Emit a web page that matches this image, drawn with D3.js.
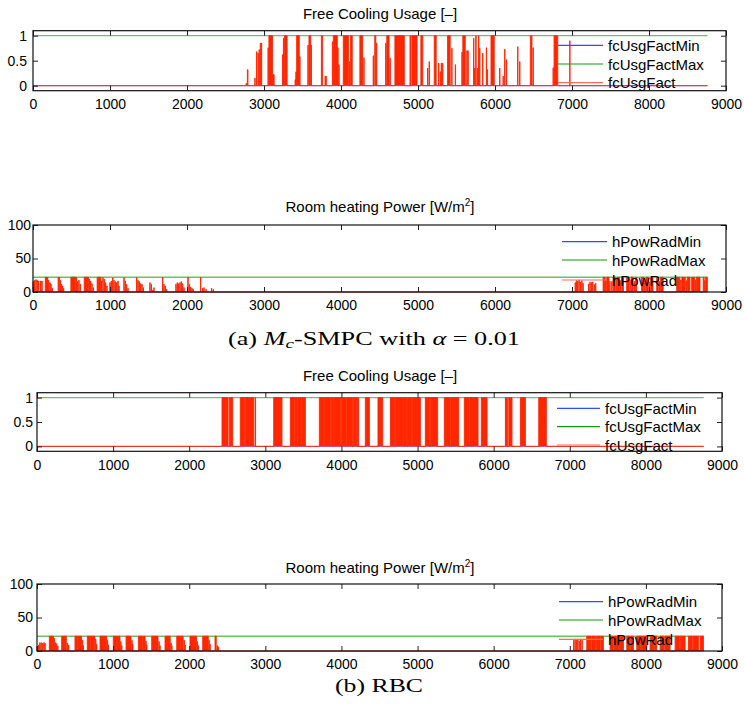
<!DOCTYPE html>
<html>
<head>
<meta charset="utf-8">
<script src="https://cdn.jsdelivr.net/npm/d3@7"></script>
<style>
  body { margin: 0; background: #fff; }
  svg text { font-family: "Liberation Sans", Arial, Helvetica, sans-serif; fill: #000; }
  svg text.cap { font-family: "Liberation Serif", "Times New Roman", serif; }
</style>
</head>
<body>
<svg id="fig" width="744" height="709"></svg>
<script>
// ---- data -------------------------------------------------------------
// hour of year on the x axis
const yearSpan = [0, 8760];
const xTicks = [0, 1000, 2000, 3000, 4000, 5000, 6000, 7000, 8000, 9000];
const fcTicks = [0, 0.5, 1];
const powTicks = [0, 50, 100];

// bounds (value at the start and at the end of the year)
const fcUsgFactMin = [0, 0];
const fcUsgFactMax = [1, 1];
const hPowRadMin = [0, 0];
const hPowRadMax = [22, 22];

// actual trajectories, as pulses [startHour, endHour, value]; zero elsewhere
const smpcFcUsgFact = [
  [2768,2772,0.05],[2784,2792,0.32],
  [2880,2884,0.15],[2902,2906,0.68],[2922,2926,0.65],[2936,2940,0.72],[2952,2958,0.85],[2966,2970,0.85],
  [3052,3056,0.76],[3064,3110,1],[3116,3132,0.22],
  [3240,3244,0.62],[3252,3256,0.95],[3266,3300,1],
  [3404,3408,0.12],[3414,3418,0.28],[3424,3458,1],[3464,3468,0.58],
  [3570,3574,0.81],[3584,3606,1],[3612,3616,0.81],
  [3745,3760,1],[3793,3810,0.19],
  [3888,3892,0.88],[3900,3952,1],[3958,3962,0.76],[3972,3976,0.42],
  [4030,4096,1],[4108,4112,0.48],[4124,4146,1],
  [4245,4280,1],[4296,4300,0.56],
  [4418,4422,0.6],[4438,4452,1],[4460,4464,0.85],
  [4580,4584,0.85],[4594,4624,1],[4636,4640,0.55],
  [4700,4822,1],
  [4896,4902,1],[4920,4988,1],
  [5037,5062,1],[5124,5128,0.35],[5144,5148,0.48],
  [5211,5236,1],
  [5267,5271,0.45],[5289,5293,0.28],[5302,5306,0.45],[5319,5323,0.45],
  [5384,5418,1],[5438,5442,0.75],[5484,5488,0.42],
  [5570,5574,0.67],[5582,5614,1],[5634,5638,0.7],[5648,5652,0.7],
  [5722,5726,0.95],[5735,5739,0.35],[5750,5755,1],[5770,5774,0.35],[5786,5790,1],[5800,5804,0.75],
  [5839,5843,0.65],[5887,5891,0.76],[5900,5904,0.32],
  [5948,5990,1],[6060,6064,0.35],
  [6104,6108,0.19],[6125,6129,0.73],[6147,6151,0.52],
  [6294,6298,0.78],[6320,6324,0.48],
  [6459,6480,1],[6494,6498,0.76],
  [6754,6758,0.36],[6767,6815,1],
  [6971,6974,0.9]
];

const smpcHPowRad = [
  [0,4,15.5],[20,24,17.5],[37,41,18.5],[54,58,17.5],[72,76,16.5],[98,102,16.5],[115,119,16.5],
  [160,172,22],[176,180,22],[188,192,22],[201,205,17.5],[219,223,14],[232,236,11.5],[249,253,5.5],
  [326,345,22],[353,357,17.5],[370,374,11.5],[383,387,9],[396,400,5.5],
  [492,550,22],[561,565,22],[578,582,15.5],[595,599,17.5],[613,617,11.5],
  [665,722,22],[730,734,19],[747,751,16.5],[764,768,12.5],[782,786,6.5],
  [833,882,22],[890,894,16.5],[907,911,21.5],[924,928,19],[942,946,14],[959,963,9],
  [998,1002,14],[1015,1019,16.5],[1033,1037,21.5],[1050,1054,17.5],[1067,1071,15.5],[1085,1089,14],[1102,1106,16.5],[1115,1119,9],
  [1180,1184,21.5],[1197,1201,16.5],[1214,1218,11.5],[1232,1236,5.5],
  [1344,1348,21.5],[1362,1366,17.5],[1379,1383,15.5],[1396,1400,12.5],[1414,1418,11.5],[1431,1435,6.5],
  [1517,1521,14],[1535,1539,11.5],[1552,1556,2.5],[1569,1573,6.5],
  [1682,1686,22],[1699,1703,11.5],[1717,1721,9],[1734,1738,4],
  [1855,1859,11.5],[1872,1876,14],[1890,1894,12.5],[1907,1911,14],[1924,1928,15.5],[1942,1946,12.5],[1959,1963,6.5],
  [2011,2015,22],[2028,2032,11.5],[2046,2050,7.5],[2063,2067,5.5],[2080,2084,4],
  [2175,2179,22],[2201,2205,5.5],[2219,2223,6.5],[2245,2249,4],[2318,2322,5.5],[2340,2344,4],
  [7040,7044,14],[7056,7060,17],[7072,7076,16],[7090,7094,18],[7108,7112,15],[7126,7130,17],[7142,7146,13],
  [7214,7218,12],[7232,7236,15],[7250,7254,14],[7268,7272,15],[7288,7292,11],[7306,7310,13],
  [7404,7430,22],[7438,7442,18],[7452,7480,22],[7490,7494,16],
  [7516,7520,16],[7534,7560,22],[7572,7576,19],[7590,7616,22],[7630,7634,17],[7648,7668,22],
  [7710,7740,22],[7752,7756,18],[7768,7794,22],[7808,7812,16],[7826,7840,22],
  [7904,7930,22],[7944,7948,17],[7960,7990,22],[8004,8008,15],[8022,8052,22],
  [8100,8120,22],[8132,8136,16],[8150,8184,22],
  [8360,8400,22],[8412,8416,18],[8426,8470,22],[8482,8486,17],[8496,8532,22],
  [8554,8590,22],[8602,8606,18],[8616,8662,22],
  [8704,8716,22],[8724,8728,17],[8736,8758,22]
];

const rbcFcUsgFact = [
  [2431,2470,1],[2476,2510,1],[2527,2571,1],
  [2671,2730,1],[2738,2785,1],[2793,2847,1],[2866,2872,1],
  [3110,3160,1],[3166,3219,1],
  [3329,3380,1],[3388,3420,1],[3428,3470,1],[3478,3526,1],
  [3710,3765,1],[3772,3860,1],[3868,3895,1],[3903,3990,1],[3997,4060,1],[4068,4148,1],[4156,4200,1],[4206,4226,1],
  [4314,4367,1],
  [4480,4542,1],
  [4643,4698,1],[4706,4816,1],[4822,4860,1],[4868,4925,1],[4932,5037,1],
  [5102,5160,1],[5166,5264,1],
  [5352,5430,1],[5438,5540,1],
  [5615,5680,1],[5688,5795,1],
  [5838,5866,1],[5872,5913,1],
  [6154,6180,1],[6198,6241,1],
  [6351,6417,1],
  [6592,6692,1]
];

const rbcHPowRad = [
  [0,4,6.5],[20,24,9],[36,40,12.5],[52,56,12.5],[70,74,11.5],[90,94,12.5],[104,108,11.5],
  [162,205,22],[212,216,22],[225,229,19],[240,244,12.5],[256,260,11],[272,276,7.5],
  [324,385,22],[398,402,12],[414,418,9],
  [499,530,22],[538,585,22],[596,600,16],[606,610,8],
  [661,700,22],[708,760,22],[770,774,18],[782,786,10],
  [828,915,22],[925,929,16],[935,939,9],
  [1003,1050,22],[1058,1090,22],[1100,1104,14],[1112,1116,8],
  [1170,1235,22],[1246,1250,16],[1256,1260,10],
  [1332,1380,22],[1388,1420,22],[1430,1434,15],[1440,1444,9],
  [1507,1590,22],[1602,1606,14],[1614,1618,8],
  [1682,1750,22],[1760,1764,12],[1770,1774,8],
  [1836,1880,22],[1888,1920,22],[1932,1936,16],[1944,1948,9],
  [2010,2095,22],[2106,2110,14],[2118,2122,8],
  [2177,2250,22],[2260,2264,16],[2272,2276,10],
  [2339,2355,22],[2370,2374,8],[2383,2387,6],
  [7050,7054,16],[7068,7072,18],[7086,7090,17],[7104,7108,18],[7122,7126,15],[7140,7144,18],[7160,7164,16],
  [7223,7280,22],[7290,7340,22],[7350,7400,22],[7410,7442,22],
  [7530,7570,22],[7580,7640,22],[7650,7705,22],
  [7749,7790,22],[7800,7836,22],
  [7880,7930,22],[7940,8012,22],
  [8055,8100,22],[8110,8143,22],
  [8187,8240,22],[8250,8318,22],
  [8384,8440,22],[8450,8515,22],
  [8559,8610,22],[8620,8690,22],
  [8712,8756,22]
];

// ---- layout of the four axes -------------------------------------------
const panels = [
  { left: 33, right: 726, top: 30.7, bottom: 90.7, yDomain: [-0.1, 1.1], yTicks: fcTicks,
    title: "Free Cooling Usage [–]", titleY: 18.5, labelGap: 6, xLabelPad: 8,
    minS: fcUsgFactMin, maxS: fcUsgFactMax, actual: smpcFcUsgFact,
    names: ["fcUsgFactMin", "fcUsgFactMax", "fcUsgFact"],
    legX: 558, legLen: 45, legY: [45.3, 64, 82.7] },
  { left: 33, right: 726, top: 225, bottom: 292, yDomain: [0, 100], yTicks: powTicks,
    title: "Room heating Power [W/m", sup: "2", titleY: 212.3, labelGap: 2, xLabelPad: 8,
    minS: hPowRadMin, maxS: hPowRadMax, actual: smpcHPowRad,
    names: ["hPowRadMin", "hPowRadMax", "hPowRad"],
    legX: 562, legLen: 45, legY: [241.7, 260, 280] },
  { left: 37, right: 722, top: 392.7, bottom: 451.3, yDomain: [-0.1, 1.1], yTicks: fcTicks,
    title: "Free Cooling Usage [–]", titleY: 380.7, labelGap: 4, xLabelPad: 9,
    minS: fcUsgFactMin, maxS: fcUsgFactMax, actual: rbcFcUsgFact,
    names: ["fcUsgFactMin", "fcUsgFactMax", "fcUsgFact"],
    legX: 557, legLen: 43, legY: [408.3, 426.7, 445] },
  { left: 37, right: 722, top: 584, bottom: 651, yDomain: [0, 100], yTicks: powTicks,
    title: "Room heating Power [W/m", sup: "2", titleY: 572.7, labelGap: 4, xLabelPad: 8,
    minS: hPowRadMin, maxS: hPowRadMax, actual: rbcHPowRad,
    names: ["hPowRadMin", "hPowRadMax", "hPowRad"],
    legX: 559, legLen: 44, legY: [601.7, 620, 639.3] }
];

const colMinLine = "#8c8cff", colMaxLine = "#6cc06c", colAct = "#ff2600";
const legendCols = ["#2f4cff", "#129a12", "#ff6a5a"];

const svg = d3.select("#fig");

// turn pulses into a step trajectory
function trajectory(pulses) {
  const pts = [[yearSpan[0], 0]];
  pulses.forEach(([a, b, v]) => { pts.push([a, 0], [a, v], [b, v], [b, 0]); });
  pts.push([yearSpan[1], 0]);
  return pts;
}

panels.forEach(p => {
  const x = d3.scaleLinear().domain([0, 9000]).range([p.left, p.right]);
  const y = d3.scaleLinear().domain(p.yDomain).range([p.bottom, p.top]);
  const g = svg.append("g");

  // bounds
  const bound = s => yearSpan.map((h, i) => [h, s[i]]);
  const line = d3.line().x(d => x(d[0])).y(d => y(d[1]));
  g.append("path").attr("d", line(bound(p.minS))).attr("fill", "none")
    .attr("stroke", colMinLine).attr("stroke-width", 1.2);
  g.append("path").attr("d", line(bound(p.maxS))).attr("fill", "none")
    .attr("stroke", colMaxLine).attr("stroke-width", 1.3);

  // actual value
  const traj = trajectory(p.actual);
  const area = d3.area().x(d => x(d[0])).y0(y(0)).y1(d => y(d[1]));
  g.append("path").attr("d", area(traj)).attr("fill", colAct).attr("stroke", "none");
  g.append("path").attr("d", line(traj)).attr("fill", "none")
    .attr("stroke", colAct).attr("stroke-width", 0.9).attr("stroke-linejoin", "miter");

  // axes: ticks pointing inwards on all four sides
  const ax = g.append("g").attr("class", "axes");
  const fmt = d3.format("");
  ax.append("g").attr("transform", `translate(0,${p.bottom})`)
    .call(d3.axisBottom(x).tickValues(xTicks).tickSizeInner(-5).tickSizeOuter(0).tickPadding(p.xLabelPad).tickFormat(fmt));
  ax.append("g").attr("transform", `translate(0,${p.top})`)
    .call(d3.axisTop(x).tickValues(xTicks).tickSizeInner(-5).tickSizeOuter(0).tickFormat(""));
  ax.append("g").attr("transform", `translate(${p.left},0)`)
    .call(d3.axisLeft(y).tickValues(p.yTicks).tickSizeInner(-5).tickSizeOuter(0).tickPadding(p.labelGap).tickFormat(fmt));
  ax.append("g").attr("transform", `translate(${p.right},0)`)
    .call(d3.axisRight(y).tickValues(p.yTicks).tickSizeInner(-5).tickSizeOuter(0).tickFormat(""));
  ax.selectAll(".domain").remove();
  ax.selectAll(".tick line").attr("stroke", "#222").attr("stroke-width", 1);
  ax.selectAll(".tick text").attr("font-size", 14).attr("font-family", null);

  g.append("rect").attr("x", p.left).attr("y", p.top)
    .attr("width", p.right - p.left).attr("height", p.bottom - p.top)
    .attr("fill", "none").attr("stroke", "#111").attr("stroke-width", 1.2);

  // title
  const t = g.append("text").attr("x", 380).attr("y", p.titleY)
    .attr("text-anchor", "middle").attr("font-size", 15).text(p.title);
  if (p.sup) {
    t.append("tspan").attr("font-size", 10).attr("dy", -6).text(p.sup);
    t.append("tspan").attr("dy", 6).text("]");
  }

  // legend
  p.names.forEach((n, i) => {
    g.append("line").attr("x1", p.legX).attr("x2", p.legX + p.legLen)
      .attr("y1", p.legY[i]).attr("y2", p.legY[i])
      .attr("stroke", legendCols[i]).attr("stroke-width", 1.2);
    g.append("text").attr("x", p.legX + p.legLen + 5).attr("y", p.legY[i] + 5.5)
      .attr("font-size", 15).text(n);
  });
});

// sub-figure captions
const capA = svg.append("text").attr("class", "cap").attr("x", 228).attr("y", 345)
  .attr("font-size", 18).attr("textLength", 292).attr("lengthAdjust", "spacingAndGlyphs");
capA.append("tspan").text("(a)  ");
capA.append("tspan").attr("font-style", "italic").text("M");
capA.append("tspan").attr("font-style", "italic").attr("font-size", 13).attr("dy", 3).text("c");
capA.append("tspan").attr("dy", -3).text("-SMPC with ");
capA.append("tspan").attr("font-style", "italic").text("α");
capA.append("tspan").text(" = 0.01");

svg.append("text").attr("class", "cap").attr("x", 335).attr("y", 691.7)
  .attr("font-size", 18).attr("textLength", 88).attr("lengthAdjust", "spacingAndGlyphs")
  .text("(b)  RBC");
</script>
</body>
</html>
